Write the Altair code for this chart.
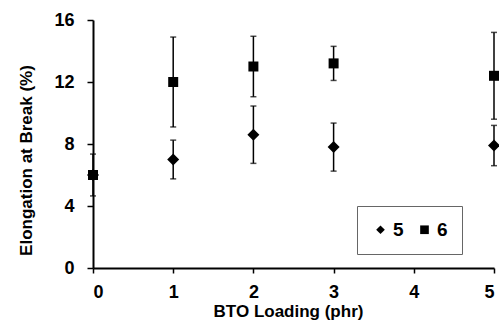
import altair as alt
import pandas as pd

# ---- data ----
loading = [0, 1, 2, 3, 5]
series_names = ["5", "6"]
elong_5 = [6.0, 7.0, 8.6, 7.8, 7.9]
err_5 = [1.35, 1.25, 1.85, 1.55, 1.3]
elong_6 = [6.0, 12.0, 13.0, 13.2, 12.4]
err_6 = [0.0, 2.9, 1.95, 1.1, 2.8]
x_ticks = [0, 1, 2, 3, 4, 5]
y_ticks = [0, 2, 4, 6, 8, 10, 12, 14, 16]

rows = []
for name, vals, errs in [("5", elong_5, err_5), ("6", elong_6, err_6)]:
    for x, v, e in zip(loading, vals, errs):
        rows.append({"loading": x, "series": name, "value": v,
                     "lo": v - e, "hi": v + e})
df = pd.DataFrame(rows)

FONT = "Liberation Sans"

x_scale = alt.Scale(domain=[0, 5], nice=False, zero=False)
y_scale = alt.Scale(domain=[0, 16], nice=False)

x_axis = alt.Axis(values=x_ticks, format="d", title="BTO Loading (phr)",
                  titleX=195, titleY=43, titleAlign="center", titleBaseline="middle",
                  labelPadding=10, tickSize=5, grid=False)
y_axis = alt.Axis(values=y_ticks, title="Elongation at Break (%)",
                  labelExpr="datum.value % 4 == 0 ? datum.label : ''",
                  titleX=-67, titleY=140, titleAlign="center", titleBaseline="middle",
                  titleAngle=-90, labelPadding=13, tickSize=6, grid=False)

shape_enc = alt.Shape(
    "series:N",
    scale=alt.Scale(domain=series_names, range=["diamond", "square"]),
    legend=alt.Legend(title=None, orient="none", legendX=264, legendY=186,
                      direction="horizontal", strokeColor="#666",
                      padding=14, columnPadding=11, labelOffset=3,
                      symbolSize=75, symbolFillColor="black", symbolStrokeColor="black",
                      symbolStrokeWidth=0,
                      labelFont=FONT, labelFontSize=19,
                      labelFontWeight="bold", labelColor="black"),
)

base = alt.Chart(df)

rules = base.mark_rule(color="black", strokeWidth=1.5).encode(
    x=alt.X("loading:Q", scale=x_scale, axis=x_axis),
    y=alt.Y("lo:Q", scale=y_scale, axis=y_axis),
    y2="hi:Q",
)
cap_lo = base.mark_tick(color="black", orient="horizontal", size=6, thickness=1.5).encode(
    x=alt.X("loading:Q", scale=x_scale),
    y=alt.Y("lo:Q", scale=y_scale),
)
cap_hi = base.mark_tick(color="black", orient="horizontal", size=6, thickness=1.5).encode(
    x=alt.X("loading:Q", scale=x_scale),
    y=alt.Y("hi:Q", scale=y_scale),
)
pts5 = base.transform_filter(alt.datum.series == "5").mark_point(
    filled=True, opacity=1, color="black", size=144).encode(
    x=alt.X("loading:Q", scale=x_scale),
    y=alt.Y("value:Q", scale=y_scale),
    shape=shape_enc,
)
pts6 = base.transform_filter(alt.datum.series == "6").mark_point(
    filled=True, opacity=1, color="black", size=100).encode(
    x=alt.X("loading:Q", scale=x_scale),
    y=alt.Y("value:Q", scale=y_scale),
    shape=shape_enc,
)

chart = alt.layer(rules, cap_lo, cap_hi, pts5, pts6).properties(
    width=401, height=248,
    autosize=alt.AutoSizeParams(type="none"),
    padding={"left": 93, "top": 20, "right": 5, "bottom": 55},
).configure_view(stroke=None).configure_axis(
    domainColor="black", domainWidth=2, tickColor="black", tickWidth=1.5,
    labelFont=FONT, labelFontSize=18, labelFontWeight="bold", labelColor="black",
    titleFont=FONT, titleFontSize=17, titleFontWeight="bold", titleColor="black",
)

chart.save("out.html", embed_options={"renderer": "svg", "actions": False})
